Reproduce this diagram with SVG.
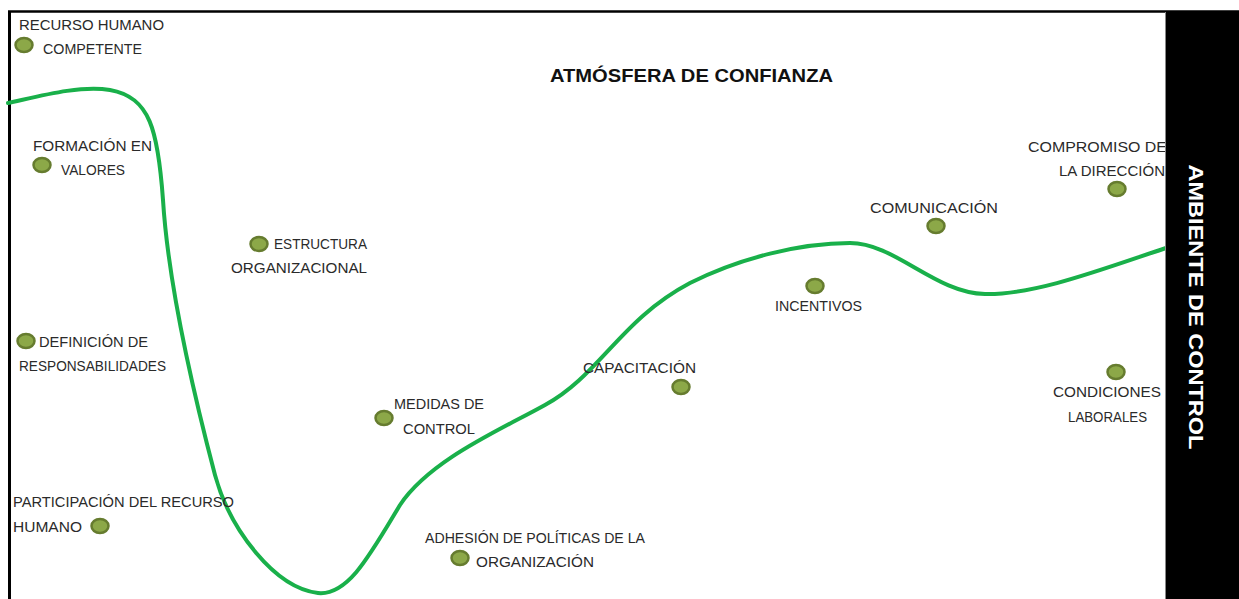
<svg xmlns="http://www.w3.org/2000/svg" width="1239" height="599" viewBox="0 0 1239 599">
<style>
.lbl{font-family:"Liberation Sans",Arial,sans-serif;font-size:14px;fill:#2a2a2a;}
.dot{fill:#8ca848;stroke:#667c2f;stroke-width:2.5;}
.curve{fill:none;stroke:#19b04a;stroke-width:4;stroke-linecap:round;}
</style>
<rect x="0" y="0" width="1239" height="599" fill="#ffffff"/>
<line x1="8" y1="11.5" x2="1239" y2="11.5" stroke="#000" stroke-width="2.5"/>
<line x1="9.5" y1="11" x2="9.5" y2="599" stroke="#000" stroke-width="3"/>
<g id="connectors">
<path class="curve" d="M8,103 C40,96 80,85 110,90 C150,97 158,130 163,200 C168,280 190,380 215,475 C230,530 275,588 318,593 C348,596 370,555 400,505 C430,460 500,430 545,405 C600,375 620,320 690,283 C740,258 800,243 850,243 C895,243 935,293 985,294 C1035,295 1100,270 1166,248"/>
</g>
<g id="title">
<text x="550" y="82" textLength="283" lengthAdjust="spacingAndGlyphs" style="font-family:'Liberation Sans',Arial,sans-serif;font-size:19px;font-weight:bold;fill:#111;">ATMÓSFERA DE CONFIANZA</text>
</g>
<g id="n1">
<ellipse class="dot" cx="24" cy="45" rx="8.5" ry="7"/>
<text class="lbl" x="19" y="30" textLength="145" lengthAdjust="spacingAndGlyphs">RECURSO HUMANO</text>
<text class="lbl" x="43" y="54" textLength="99" lengthAdjust="spacingAndGlyphs">COMPETENTE</text>
</g>
<g id="n2">
<ellipse class="dot" cx="42" cy="165" rx="8.5" ry="7"/>
<text class="lbl" x="33" y="151" textLength="119" lengthAdjust="spacingAndGlyphs">FORMACIÓN EN</text>
<text class="lbl" x="61" y="175" textLength="64" lengthAdjust="spacingAndGlyphs">VALORES</text>
</g>
<g id="n3">
<ellipse class="dot" cx="259" cy="244" rx="8.5" ry="7"/>
<text class="lbl" x="274" y="249" textLength="93" lengthAdjust="spacingAndGlyphs">ESTRUCTURA</text>
<text class="lbl" x="231" y="273" textLength="136" lengthAdjust="spacingAndGlyphs">ORGANIZACIONAL</text>
</g>
<g id="n4">
<ellipse class="dot" cx="26" cy="341" rx="8.5" ry="7"/>
<text class="lbl" x="39" y="347" textLength="109" lengthAdjust="spacingAndGlyphs">DEFINICIÓN DE</text>
<text class="lbl" x="19" y="371" textLength="147" lengthAdjust="spacingAndGlyphs">RESPONSABILIDADES</text>
</g>
<g id="n5">
<ellipse class="dot" cx="384" cy="418" rx="8.5" ry="7"/>
<text class="lbl" x="394" y="409" textLength="90" lengthAdjust="spacingAndGlyphs">MEDIDAS DE</text>
<text class="lbl" x="403" y="434" textLength="72" lengthAdjust="spacingAndGlyphs">CONTROL</text>
</g>
<g id="n6">
<ellipse class="dot" cx="100" cy="526" rx="8.5" ry="7"/>
<text class="lbl" x="13" y="507" textLength="221" lengthAdjust="spacingAndGlyphs">PARTICIPACIÓN DEL RECURSO</text>
<text class="lbl" x="13" y="532" textLength="69" lengthAdjust="spacingAndGlyphs">HUMANO</text>
</g>
<g id="n7">
<ellipse class="dot" cx="460" cy="558" rx="8.5" ry="7"/>
<text class="lbl" x="425" y="543" textLength="220" lengthAdjust="spacingAndGlyphs">ADHESIÓN DE POLÍTICAS DE LA</text>
<text class="lbl" x="476" y="567" textLength="118" lengthAdjust="spacingAndGlyphs">ORGANIZACIÓN</text>
</g>
<g id="n8">
<ellipse class="dot" cx="681" cy="387" rx="8.5" ry="7"/>
<text class="lbl" x="583" y="373" textLength="113" lengthAdjust="spacingAndGlyphs">CAPACITACIÓN</text>
</g>
<g id="n9">
<ellipse class="dot" cx="815" cy="286" rx="8.5" ry="7"/>
<text class="lbl" x="775" y="311" textLength="87" lengthAdjust="spacingAndGlyphs">INCENTIVOS</text>
</g>
<g id="n10">
<ellipse class="dot" cx="936" cy="226" rx="8.5" ry="7"/>
<text class="lbl" x="870" y="213" textLength="128" lengthAdjust="spacingAndGlyphs">COMUNICACIÓN</text>
</g>
<g id="n11">
<ellipse class="dot" cx="1117" cy="189" rx="8.5" ry="7"/>
<text class="lbl" x="1028" y="152" textLength="139" lengthAdjust="spacingAndGlyphs">COMPROMISO DE</text>
<text class="lbl" x="1059" y="176" textLength="106" lengthAdjust="spacingAndGlyphs">LA DIRECCIÓN</text>
</g>
<g id="n12">
<ellipse class="dot" cx="1116" cy="372" rx="8.5" ry="7"/>
<text class="lbl" x="1053" y="397" textLength="108" lengthAdjust="spacingAndGlyphs">CONDICIONES</text>
<text class="lbl" x="1068" y="422" textLength="79" lengthAdjust="spacingAndGlyphs">LABORALES</text>
</g>
<g id="bar">
<rect x="1166" y="12" width="73" height="587" fill="#000"/>
<line x1="1165.5" y1="12" x2="1165.5" y2="599" stroke="#888" stroke-width="1"/>
<text transform="translate(1189,307) rotate(90)" text-anchor="middle" textLength="285" lengthAdjust="spacingAndGlyphs" style="font-family:'Liberation Sans',Arial,sans-serif;font-size:20px;font-weight:bold;fill:#fff;">AMBIENTE DE CONTROL</text>
</g>
</svg>
